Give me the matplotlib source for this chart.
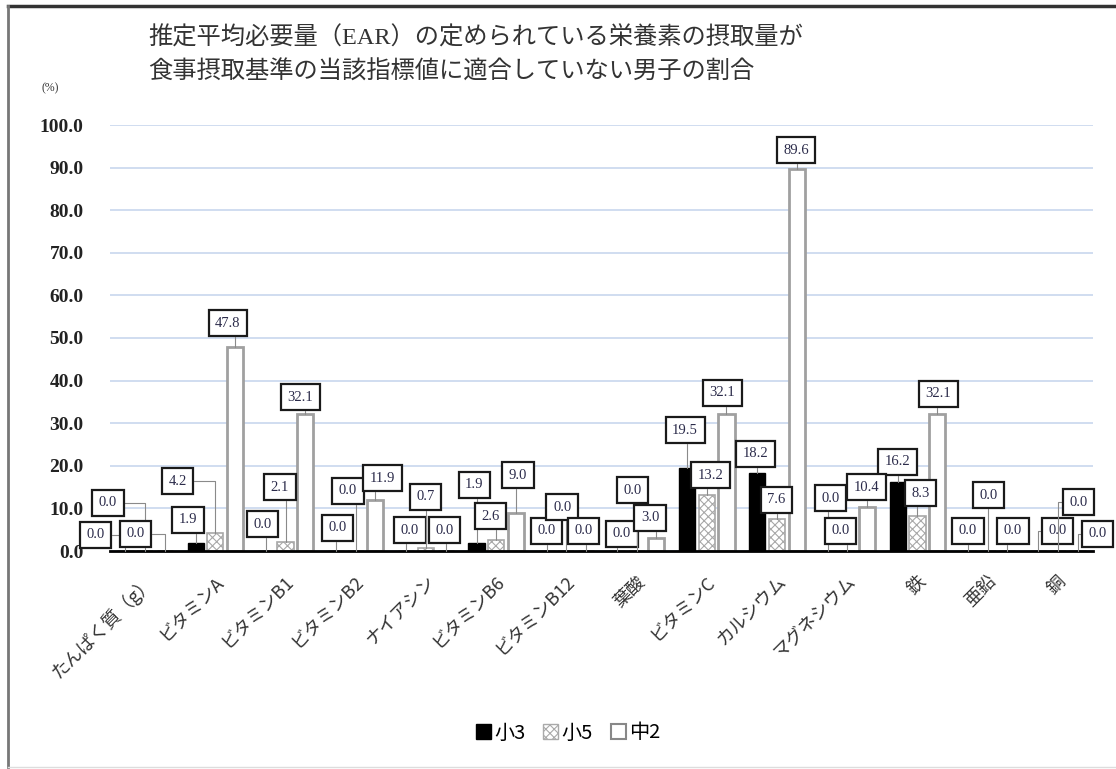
import numpy as np
import matplotlib
matplotlib.use('Agg')
import matplotlib.pyplot as plt
from matplotlib.patches import Patch
from matplotlib.lines import Line2D
from matplotlib.transforms import ScaledTranslation

plt.rcParams['font.family'] = ['Noto Sans CJK JP', 'DejaVu Sans']
plt.rcParams['hatch.linewidth'] = 0.8

# data
nutrients = ['たんぱく質（g）', 'ビタミンA', 'ビタミンB1', 'ビタミンB2', 'ナイアシン',
             'ビタミンB6', 'ビタミンB12', '葉酸', 'ビタミンC', 'カルシウム',
             'マグネシウム', '鉄', '亜鉛', '銅']
series = ['小3', '小5', '中2']
sho3 = [0.0, 1.9, 0.0, 0.0, 0.0, 1.9, 0.0, 0.0, 19.5, 18.2, 0.0, 16.2, 0.0, 0.0]
sho5 = [0.0, 4.2, 2.1, 0.0, 0.7, 2.6, 0.0, 0.0, 13.2, 7.6, 0.0, 8.3, 0.0, 0.0]
chu2 = [0.0, 47.8, 32.1, 11.9, 0.0, 9.0, 0.0, 3.0, 32.1, 89.6, 10.4, 32.1, 0.0, 0.0]
yticks = [0, 10, 20, 30, 40, 50, 60, 70, 80, 90, 100]

# where the value boxes sit, relative to each bar top (dx in groups, dy in %)
lab_sho3 = [(-0.43, 3.8), (-0.11, 5.4), (-0.05, 6.3), (0.02, 5.4), (0.05, 4.9),
            (-0.03, 13.6), (0.0, 4.7), (0.07, 4.0), (-0.03, 8.9), (-0.03, 4.6),
            (0.04, 12.4), (0.0, 4.7), (0.0, 4.7), (0.27, 4.7)]
lab_sho5 = [(-0.53, 11.3), (-0.54, 12.2), (-0.08, 12.9), (-0.11, 14.1), (-0.01, 12.0),
            (-0.08, 5.6), (-0.06, 10.3), (-0.06, 14.3), (0.05, 4.6), (-0.01, 4.4),
            (-0.10, 4.7), (0.04, 5.3), (0.01, 13.1), (0.29, 11.5)]
lab_chu2 = [(-0.42, 4.0), (-0.10, 5.7), (-0.07, 4.0), (0.10, 5.2), (-0.02, 4.9),
            (0.03, 8.8), (-0.04, 4.7), (-0.09, 4.8), (-0.06, 5.0), (-0.01, 4.5),
            (-0.01, 4.6), (0.02, 4.8), (0.08, 4.7), (0.28, 4.0)]

W, H = 1116, 769
fig = plt.figure(figsize=(W / 100, H / 100), dpi=100)
ax = fig.add_axes([110 / W, 1 - 551 / H, 983 / W, 426 / H])

x = np.arange(len(nutrients))
offsets = [-0.28, 0.0, 0.28]
width = 0.23
styles = [
    dict(facecolor='black', edgecolor='black', linewidth=1),
    dict(facecolor='white', edgecolor='#a8a8a8', hatch='xxxx', linewidth=1.2),
    dict(facecolor='white', edgecolor='#a0a0a0', linewidth=2),
]

for values, off, st, labs in zip([sho3, sho5, chu2], offsets, styles,
                                 [lab_sho3, lab_sho5, lab_chu2]):
    ax.bar(x + off, values, width, zorder=3, **st)
    for xi, v, (dx, dy) in zip(x + off, values, labs):
        ax.annotate(f'{v:.1f}', xy=(xi, v), xytext=(xi + dx, v + dy),
                    ha='center', va='center', fontsize=10.5,
                    family=['Liberation Serif', 'DejaVu Serif'], color='#2b2b4a',
                    bbox=dict(boxstyle='square,pad=0.45', fc='white', ec='#1a1a1a', lw=1.6),
                    arrowprops=dict(arrowstyle='-', color='#8a8a8a', lw=0.8,
                                    connectionstyle='angle,angleA=0,angleB=90,rad=0',
                                    shrinkA=0, shrinkB=0),
                    zorder=5, annotation_clip=False)

ax.set_xlim(-0.5, len(nutrients) - 0.5)
ax.set_ylim(0, 100)
ax.set_axisbelow(True)
ax.yaxis.grid(True, color='#c8d7ee', lw=1.2)
for s in ['left', 'right', 'top']:
    ax.spines[s].set_visible(False)
ax.spines['bottom'].set_color('black')
ax.spines['bottom'].set_linewidth(2)
ax.spines['bottom'].set_zorder(4)

ax.set_yticks(yticks)
ax.set_yticklabels([f'{v:.1f}' for v in yticks], family=['Liberation Serif', 'DejaVu Serif'],
                   weight='bold', fontsize=14, color='#222222')
ax.set_xticks(x)
ax.set_xticklabels(nutrients, rotation=45, ha='right', va='center',
                   rotation_mode='anchor', fontsize=13, color='#333333')
ax.tick_params(axis='y', length=0, pad=19)
ax.tick_params(axis='x', length=0, pad=20)
shift = ScaledTranslation(4 / 72, 0, fig.dpi_scale_trans)
for lbl in ax.get_xticklabels():
    lbl.set_transform(lbl.get_transform() + shift)

# titles
fig.text(148 / W, 1 - 38 / H, '推定平均必要量（EAR）の定められている栄養素の摂取量が',
         fontsize=17.5, color='#333333', va='center', ha='left',
         family=['Liberation Serif', 'Noto Sans CJK JP'])
fig.text(148 / W, 1 - 72 / H, '食事摂取基準の当該指標値に適合していない男子の割合',
         fontsize=17.5, color='#333333', va='center', ha='left')
fig.text(42 / W, 1 - 88 / H, '(%)', fontsize=8.5, color='#333333', va='center', ha='left',
         family=['Liberation Serif', 'DejaVu Serif'])

# legend
handles = [Patch(facecolor='black', edgecolor='black'),
           Patch(facecolor='white', edgecolor='#aaaaaa', hatch='xxxx'),
           Patch(facecolor='white', edgecolor='#888888', linewidth=1.5)]
fig.legend(handles, series, loc='center', bbox_to_anchor=(568 / W, 1 - 733 / H),
           ncol=3, frameon=False, fontsize=14.5, handlelength=0.75, handleheight=0.75,
           handletextpad=0.15, columnspacing=0.9)

# outer frame
fig.add_artist(Line2D([8 / W, 1], [1 - 6 / H] * 2, color='#333333', lw=2.5))
fig.add_artist(Line2D([8 / W] * 2, [1 - 6 / H, 2 / H], color='#777777', lw=2))
fig.add_artist(Line2D([8 / W, 1], [2 / H] * 2, color='#dddddd', lw=1))

fig.savefig('out.png', dpi=100)
